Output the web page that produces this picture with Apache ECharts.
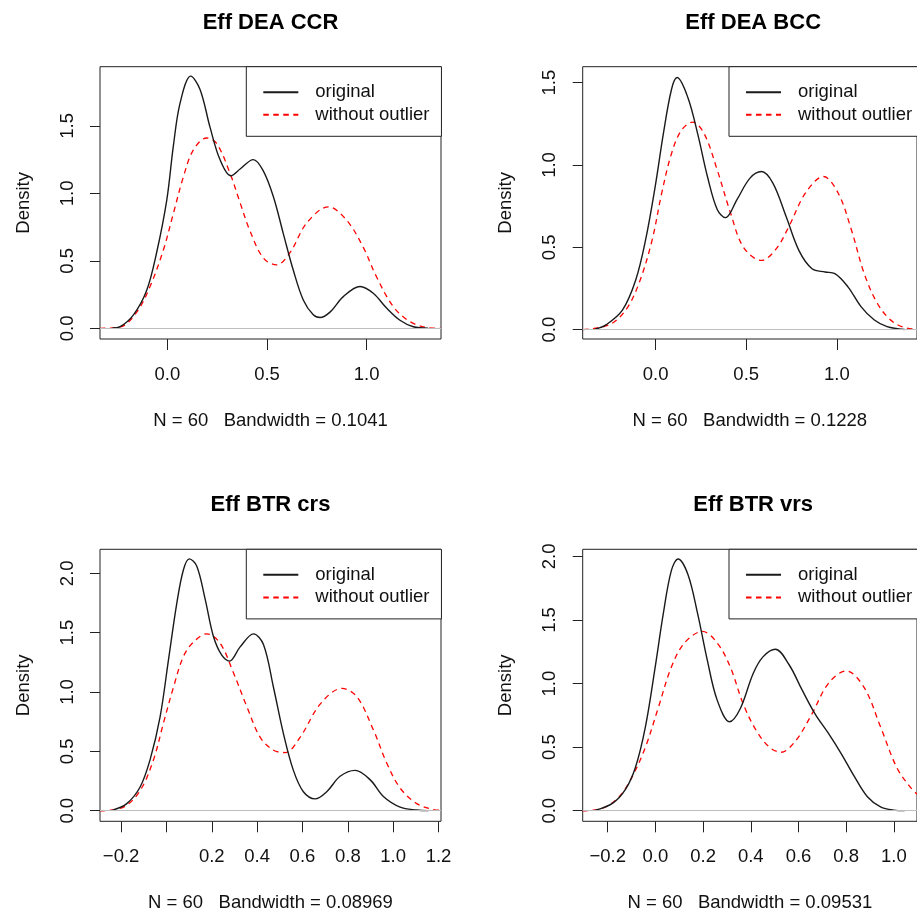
<!DOCTYPE html>
<html><head><meta charset="utf-8">
<script src="https://cdn.jsdelivr.net/npm/echarts@6/dist/echarts.min.js"></script>
<style>html,body{margin:0;padding:0;background:#fff}#c{width:917px;height:915px}</style>
</head><body><div id="c"></div>
<script>
// ---------- data ----------
const titles = ['Eff DEA CCR', 'Eff DEA BCC', 'Eff BTR crs', 'Eff BTR vrs'];
const subLabels = ['N = 60   Bandwidth = 0.1041', 'N = 60   Bandwidth = 0.1228',
                   'N = 60   Bandwidth = 0.08969', 'N = 60   Bandwidth = 0.09531'];
const seriesNames = ['original', 'without outlier'];
const yName = 'Density';

// axis ranges [xmin, xmax, ymin, ymax]
const ranges = [
  [-0.338, 1.373, -0.079, 1.938],
  [-0.402, 1.442, -0.057, 1.597],
  [-0.293, 1.211, -0.089, 2.202],
  [-0.305, 1.097, -0.083, 2.056]
];

// tick values and labels
const xTicks = [
  [0, 0.5, 1.0],
  [0, 0.5, 1.0],
  [-0.2, 0, 0.2, 0.4, 0.6, 0.8, 1.0, 1.2],
  [-0.2, 0, 0.2, 0.4, 0.6, 0.8, 1.0]
];
const xTickLabels = [
  ['0.0', '0.5', '1.0'],
  ['0.0', '0.5', '1.0'],
  ['\u22120.2', '', '0.2', '0.4', '0.6', '0.8', '1.0', '1.2'],
  ['\u22120.2', '0.0', '0.2', '0.4', '0.6', '0.8', '1.0']
];
const yTicks = [
  [0, 0.5, 1.0, 1.5],
  [0, 0.5, 1.0, 1.5],
  [0, 0.5, 1.0, 1.5, 2.0],
  [0, 0.5, 1.0, 1.5, 2.0]
];
const yTickLabels = [
  ['0.0', '0.5', '1.0', '1.5'],
  ['0.0', '0.5', '1.0', '1.5'],
  ['0.0', '0.5', '1.0', '1.5', '2.0'],
  ['0.0', '0.5', '1.0', '1.5', '2.0']
];

// density curves
const ccrOrigX = [-0.275,-0.237,-0.17,-0.104,-0.054,-0.003,0.03,0.064,0.117,0.164,0.214,0.264,0.319,0.365,0.431,0.48,0.532,0.582,0.632,0.682,0.732,0.766,0.816,0.883,0.967,1.033,1.1,1.167,1.234,1.309];
const ccrOrigY = [0.002,0.012,0.1,0.28,0.56,0.95,1.35,1.67,1.868,1.77,1.49,1.25,1.13,1.18,1.25,1.17,0.975,0.70,0.43,0.21,0.10,0.08,0.12,0.235,0.31,0.26,0.15,0.06,0.012,0.001];
const ccrNoOutX = [-0.338,-0.237,-0.154,-0.087,-0.02,0.03,0.08,0.13,0.197,0.247,0.314,0.365,0.415,0.482,0.548,0.615,0.699,0.808,0.9,0.983,1.05,1.134,1.217,1.3,1.373];
const ccrNoOutY = [0.0,0.01,0.12,0.31,0.58,0.85,1.12,1.32,1.41,1.37,1.15,0.93,0.72,0.52,0.47,0.56,0.78,0.90,0.80,0.60,0.38,0.16,0.05,0.007,0.0];

const bccOrigX = [-0.334,-0.272,-0.182,-0.11,-0.056,-0.002,0.043,0.088,0.119,0.178,0.232,0.286,0.34,0.386,0.449,0.521,0.584,0.647,0.719,0.791,0.863,0.935,0.989,1.061,1.133,1.205,1.277,1.373];
const bccOrigY = [0.002,0.03,0.12,0.30,0.54,0.87,1.19,1.46,1.531,1.41,1.19,0.93,0.73,0.68,0.79,0.92,0.96,0.89,0.69,0.48,0.37,0.35,0.34,0.26,0.14,0.06,0.018,0.001];
const bccNoOutX = [-0.40,-0.254,-0.164,-0.092,-0.02,0.034,0.088,0.142,0.205,0.268,0.34,0.413,0.485,0.584,0.665,0.737,0.827,0.926,1.007,1.079,1.151,1.223,1.295,1.368,1.44];
const bccNoOutY = [0.0,0.03,0.12,0.28,0.54,0.83,1.07,1.21,1.26,1.19,0.97,0.71,0.50,0.42,0.49,0.63,0.83,0.93,0.83,0.61,0.34,0.16,0.06,0.014,0.002];

const crsOrigX = [-0.237,-0.175,-0.116,-0.072,-0.028,0.009,0.046,0.075,0.101,0.134,0.171,0.207,0.244,0.278,0.325,0.384,0.428,0.472,0.516,0.56,0.604,0.656,0.707,0.766,0.832,0.899,0.957,1.031,1.104,1.155];
const crsOrigY = [0.005,0.06,0.20,0.43,0.79,1.27,1.75,2.03,2.121,2.06,1.78,1.47,1.31,1.26,1.38,1.49,1.40,1.04,0.65,0.34,0.16,0.10,0.16,0.29,0.34,0.26,0.12,0.03,0.006,0.001];
const crsNoOutX = [-0.293,-0.19,-0.116,-0.057,-0.013,0.031,0.075,0.119,0.178,0.237,0.296,0.354,0.413,0.472,0.524,0.59,0.679,0.774,0.84,0.913,0.972,1.031,1.104,1.178,1.211];
const crsNoOutY = [0.0,0.03,0.17,0.43,0.74,1.04,1.30,1.42,1.49,1.41,1.16,0.88,0.62,0.51,0.49,0.62,0.90,1.03,0.96,0.68,0.40,0.19,0.06,0.01,0.003];

const vrsOrigX = [-0.253,-0.179,-0.125,-0.084,-0.042,-0.001,0.033,0.067,0.095,0.136,0.177,0.218,0.259,0.311,0.355,0.41,0.451,0.503,0.56,0.615,0.67,0.725,0.779,0.834,0.889,0.944,0.999,1.045];
const vrsOrigY = [0.003,0.06,0.17,0.34,0.66,1.13,1.55,1.89,1.98,1.86,1.55,1.18,0.87,0.70,0.80,1.08,1.21,1.27,1.15,0.95,0.76,0.61,0.45,0.27,0.11,0.03,0.005,0.001];
const vrsNoOutX = [-0.305,-0.221,-0.152,-0.097,-0.042,0.012,0.067,0.122,0.197,0.259,0.314,0.368,0.423,0.478,0.526,0.588,0.656,0.725,0.8,0.875,0.944,1.012,1.067,1.097];
const vrsNoOutY = [0.0,0.02,0.11,0.27,0.50,0.81,1.13,1.32,1.41,1.32,1.13,0.84,0.63,0.50,0.46,0.55,0.76,1.00,1.10,0.97,0.66,0.34,0.19,0.13];

const curves = [
  [[ccrOrigX, ccrOrigY], [ccrNoOutX, ccrNoOutY]],
  [[bccOrigX, bccOrigY], [bccNoOutX, bccNoOutY]],
  [[crsOrigX, crsOrigY], [crsNoOutX, crsNoOutY]],
  [[vrsOrigX, vrsOrigY], [vrsNoOutX, vrsNoOutY]]
];

// ---------- layout ----------
const FONT = "'Liberation Sans', Arial, Helvetica, sans-serif";
const FS = 18.5;
const INK = '#111';
const boxes = [
  {left: 100,   top: 66.7,  width: 341, height: 272.3},
  {left: 582.7, top: 66.7,  width: 341, height: 272.3},
  {left: 100,   top: 549.3, width: 341, height: 272},
  {left: 582.7, top: 549.3, width: 341, height: 272}
];

function zip(xs, ys) { return xs.map((x, i) => [x, ys[i]]); }
function labelFor(vals, labs) {
  return function (v) {
    for (let i = 0; i < vals.length; i++) if (Math.abs(vals[i] - v) < 1e-9) return labs[i];
    return '';
  };
}

const grid = [], xAxis = [], yAxis = [], series = [], title = [], legend = [];
boxes.forEach((b, i) => {
  grid.push({left: b.left, top: b.top, width: b.width, height: b.height,
    show: true, borderColor: '#222', borderWidth: 1, backgroundColor: 'transparent', containLabel: false});
  const r = ranges[i];
  xAxis.push({
    type: 'value', gridIndex: i, min: r[0], max: r[1], position: 'bottom',
    axisLine: {show: false, onZero: false},
    splitLine: {show: false},
    axisTick: {show: true, inside: false, length: 11, customValues: xTicks[i], lineStyle: {color: '#222', width: 1}},
    axisLabel: {show: true, customValues: xTicks[i], formatter: labelFor(xTicks[i], xTickLabels[i]),
      margin: 26, fontSize: FS, fontFamily: FONT, color: INK, hideOverlap: false, showMinLabel: true, showMaxLabel: true},
    name: subLabels[i], nameLocation: 'middle', nameGap: 72,
    nameTextStyle: {fontSize: FS, fontFamily: FONT, color: INK}
  });
  yAxis.push({
    type: 'value', gridIndex: i, min: r[2], max: r[3], position: 'left',
    axisLine: {show: false, onZero: false},
    splitLine: {show: false},
    axisTick: {show: true, inside: false, length: 10, customValues: yTicks[i], lineStyle: {color: '#222', width: 1}},
    axisLabel: {show: true, customValues: yTicks[i], formatter: labelFor(yTicks[i], yTickLabels[i]),
      rotate: 90, margin: 23, fontSize: FS, fontFamily: FONT, color: INK, hideOverlap: false},
    name: yName, nameLocation: 'middle', nameGap: 67, nameRotate: 90,
    nameTextStyle: {fontSize: FS, fontFamily: FONT, color: INK}
  });
  const styles = [
    {color: '#1a1a1a', width: 1.4, type: 'solid'},
    {color: '#ff0000', width: 1.3, type: [5.5, 4.5]}
  ];
  curves[i].forEach((c, k) => {
    const s = {
      type: 'line', name: seriesNames[k], xAxisIndex: i, yAxisIndex: i,
      data: zip(c[0], c[1]), smooth: 0.35, symbol: 'none', showSymbol: false,
      lineStyle: styles[k], itemStyle: {color: styles[k].color},
      animation: false, silent: true, z: 3 - k
    };
    if (k === 0) {
      s.markLine = {silent: true, symbol: 'none', label: {show: false}, animation: false,
        lineStyle: {color: '#bebebe', width: 1, type: 'solid'}, data: [{yAxis: 0}]};
    }
    series.push(s);
  });
  title.push({
    text: titles[i], left: b.left + b.width / 2, top: b.top - 55, textAlign: 'center', padding: 0,
    textStyle: {fontSize: 22, fontWeight: 'bold', fontFamily: FONT, color: '#000'}
  });
  legend.push({
    show: true, data: seriesNames, left: b.left + 146.3, top: b.top, orient: 'vertical', align: 'left',
    padding: [14.5, 12, 10.5, 16], itemGap: 0.6, itemWidth: 35, itemHeight: 14,
    borderColor: '#222', borderWidth: 1, borderRadius: 0, backgroundColor: '#fff',
    selectedMode: false,
    itemStyle: {opacity: 0, borderWidth: 0},
    textStyle: {fontSize: FS, fontFamily: FONT, color: INK, lineHeight: 22, padding: [0, 0, 0, 12]}
  });
});

const chart = echarts.init(document.getElementById('c'), null, {renderer: 'canvas'});
chart.setOption({
  animation: false, backgroundColor: '#fff',
  title, legend, grid, xAxis, yAxis, series, tooltip: {show: false}
});
</script>
</body></html>
